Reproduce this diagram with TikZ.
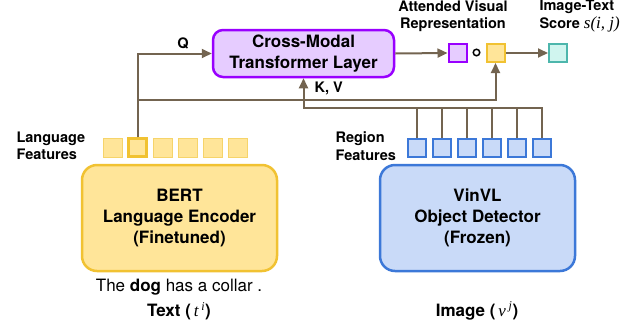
\documentclass[tikz,border=0pt]{standalone}
\usepackage{fontspec}
\setmainfont{TeX Gyre Heros}
\newfontfamily\timesfont{Liberation Serif}
\usetikzlibrary{arrows.meta}

\definecolor{connbrown}{RGB}{115,100,80}
\definecolor{xmfill}{HTML}{E6CCFF}
\definecolor{xmdraw}{HTML}{9900FF}
\definecolor{bertfill}{HTML}{FFE599}
\definecolor{bertdraw}{HTML}{F1C232}
\definecolor{bertlight}{HTML}{F6D46A}
\definecolor{vinfill}{HTML}{C9DAF8}
\definecolor{vindraw}{HTML}{3C78D8}
\definecolor{scorefill}{HTML}{D0F5EF}
\definecolor{scoredraw}{HTML}{4DB6AC}

\newcommand\boxfont{\bfseries\fontsize{17}{21}\selectfont}
\newcommand\labfont{\bfseries\fontsize{14.5}{17.5}\selectfont}

\begin{document}
\begin{tikzpicture}[%
    x=1pt,y=-1pt,
    >={Triangle[length=10pt,width=9pt]},
    conn/.style={draw=connbrown,line width=2pt},
    bigbox/.style={draw,line width=2.5pt,rounded corners=15pt,minimum width=195pt,minimum height=106pt,align=center,font=\boxfont},
    xmodal/.style={draw=xmdraw,fill=xmfill,line width=2.5pt,rounded corners=10pt,minimum width=181pt,minimum height=47pt,align=center,font=\boxfont},
    lfeat/.style={draw=bertlight,fill=bertfill,line width=1pt,minimum size=19pt,inner sep=0pt},
    lsel/.style={draw=bertdraw,fill=bertfill,line width=2.5pt,minimum size=18pt,inner sep=0pt},
    rfeat/.style={draw=vindraw,fill=vinfill,line width=2pt,minimum size=18pt,inner sep=0pt},
    sq/.style={line width=2pt,minimum size=18pt,inner sep=0pt},
    lab/.style={font=\labfont,align=left}
  ]
		\useasboundingbox (0,0) rectangle (629,325);

		% encoders
		\node at (179.5,218) [bigbox,draw=bertdraw,fill=bertfill] (bert) {BERT\\Language Encoder\\(Finetuned)};
		\node at (477.5,218) [bigbox,draw=vindraw,fill=vinfill] (vinvl) {VinVL\\Object Detector\\(Frozen)};
		\node at (303.5,53.5) [xmodal] (cm) {Cross-Modal\\Transformer Layer};

		% features
		\foreach \i/\s in {1/lfeat,2/lsel,3/lfeat,4/lfeat,5/lfeat,6/lfeat}
			\node at (87.5+25*\i,147.5) [\s] (l\i) {};
		\foreach \i in {1,...,6}
			\node at (392+25*\i,147.5) [rfeat] (r\i) {};

		% score part
		\node at (457.5,53) [sq,draw=xmdraw,fill=xmfill] (att) {};
		\node at (476.5,52.5) [circle,draw,line width=1.5pt,minimum size=6.5pt,inner sep=0pt] (comp) {};
		\node at (495.5,53) [sq,draw=bertdraw,fill=bertfill] (lvec) {};
		\node at (558,53) [sq,draw=scoredraw,fill=scorefill] (score) {};

		% connectors
		\coordinate (qsplit) at (137.5,100);
		\coordinate (kv) at (303.5,108);
		\draw[conn,->] (l2.north) |- (cm.west);
		\draw[conn,->] (qsplit) -| (lvec.south);
		\draw[conn,->] (r6.north) |- (kv) -- (kv |- cm.south);
		\foreach \i in {1,...,5}
			\draw[conn] (r\i.north) -- (r\i.north |- kv);
		\draw[conn,->] (cm.east) -- (att.west);
		\draw[conn,->] (lvec.east) -- (score.west);

		% labels
		\node at (183,43) [lab] (qlab) {Q};
		\node at (311,88) [lab,anchor=west] (kvlab) {K, V};
		\node at (13,146) [lab,anchor=west] (llab) {Language\\Features};
		\node at (332,146) [lab,anchor=west] (rlab) {Region\\Features};
		\node at (453,16) [lab,align=center] (attlab) {Attended Visual\\Representation};
		\node at (536,16) [lab,anchor=west] (scorelab) {Image-Text\\Score {\timesfont\mdseries\itshape\fontsize{17}{17.5}\selectfont s(i, j)}};
		\node at (179,287) [font=\fontsize{17}{20}\selectfont] (sent) {The \textbf{dog} has a collar .};
		\node at (179,311) [font=\boxfont] (textlab) {Text (\,{\timesfont\mdseries\itshape t\,\textsuperscript{i}})};
		\node at (477,311) [font=\boxfont] (imglab) {Image (\,{\timesfont\mdseries\itshape v\,\textsuperscript{j}})};
\end{tikzpicture}
\end{document}
